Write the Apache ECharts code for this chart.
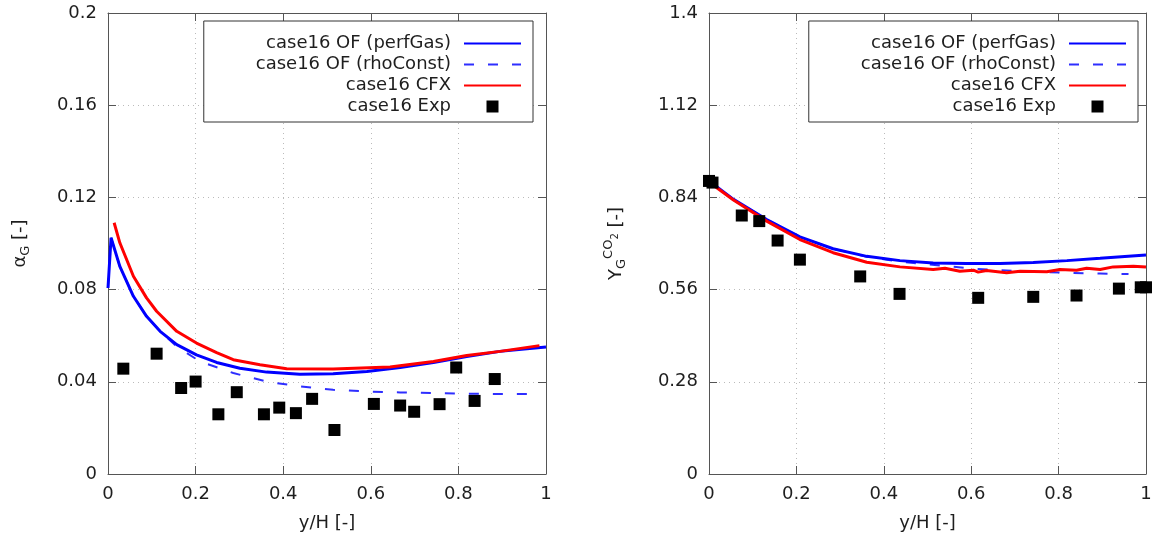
<!DOCTYPE html>
<html>
<head>
<meta charset="utf-8">
<script src="https://cdn.jsdelivr.net/npm/echarts@6/dist/echarts.min.js"></script>
<style>
html,body{margin:0;padding:0;background:#fff;}
#chart{width:1158px;height:540px;}
</style>
</head>
<body>
<div id="chart"></div>
<script>
// ---------- tick labels ----------
const xTickLabels = ['0', '0.2', '0.4', '0.6', '0.8', '1'];
const yTickLabelsAlpha = ['0', '0.04', '0.08', '0.12', '0.16', '0.2'];
const yTickLabelsCO2 = ['0', '0.28', '0.56', '0.84', '1.12', '1.4'];

// ---------- series names ----------
const seriesNames = ['case16 OF (perfGas)', 'case16 OF (rhoConst)', 'case16 CFX', 'case16 Exp'];

// ---------- left plot: gas volume fraction alpha_G ----------
const alphaPerfGas = [
  [0.000, 0.0807], [0.007, 0.1025], [0.027, 0.0901], [0.058, 0.0771], [0.088, 0.0684],
  [0.119, 0.0619], [0.157, 0.0561], [0.202, 0.0517], [0.248, 0.0484], [0.301, 0.0459],
  [0.362, 0.0442], [0.438, 0.0433], [0.514, 0.0435], [0.591, 0.0445], [0.667, 0.0462],
  [0.743, 0.0484], [0.819, 0.0510], [0.895, 0.0532], [1.000, 0.0551]
];
const alphaRhoConst = [
  [0.000, 0.0807], [0.007, 0.1025], [0.027, 0.0901], [0.058, 0.0771], [0.088, 0.0684],
  [0.119, 0.0619], [0.157, 0.0553], [0.210, 0.0488], [0.286, 0.0438], [0.362, 0.0401],
  [0.438, 0.0380], [0.514, 0.0365], [0.591, 0.0358], [0.667, 0.0354], [0.743, 0.0351],
  [0.819, 0.0348], [0.895, 0.0347], [0.985, 0.0347]
];
const alphaCFX = [
  [0.014, 0.1090], [0.027, 0.1003], [0.058, 0.0858], [0.088, 0.0764], [0.111, 0.0706],
  [0.157, 0.0619], [0.202, 0.0568], [0.248, 0.0527], [0.286, 0.0496], [0.347, 0.0474],
  [0.408, 0.0457], [0.514, 0.0455], [0.644, 0.0464], [0.743, 0.0488], [0.819, 0.0514],
  [0.895, 0.0532], [0.985, 0.0557]
];
const alphaExp = [
  [0.035, 0.0457], [0.111, 0.0522], [0.167, 0.0373], [0.200, 0.0401], [0.252, 0.0259],
  [0.294, 0.0355], [0.356, 0.0259], [0.391, 0.0288], [0.429, 0.0264], [0.466, 0.0326],
  [0.517, 0.0191], [0.607, 0.0304], [0.667, 0.0297], [0.699, 0.0270], [0.757, 0.0303],
  [0.795, 0.0462], [0.837, 0.0317], [0.883, 0.0412]
];

// ---------- right plot: CO2 mass fraction in gas ----------
const co2PerfGas = [
  [0.000, 0.888], [0.010, 0.880], [0.056, 0.834], [0.132, 0.773], [0.208, 0.720],
  [0.284, 0.684], [0.361, 0.661], [0.437, 0.648], [0.513, 0.641], [0.590, 0.639],
  [0.666, 0.639], [0.742, 0.642], [0.819, 0.648], [0.895, 0.655], [1.000, 0.665]
];
const co2RhoConst = [
  [0.000, 0.888], [0.010, 0.880], [0.056, 0.834], [0.132, 0.773], [0.208, 0.720],
  [0.284, 0.684], [0.361, 0.660], [0.437, 0.645], [0.529, 0.633], [0.600, 0.624],
  [0.666, 0.619], [0.742, 0.614], [0.819, 0.611], [0.895, 0.609], [0.960, 0.607]
];
const co2CFX = [
  [0.000, 0.885], [0.010, 0.877], [0.056, 0.832], [0.132, 0.768], [0.208, 0.712],
  [0.284, 0.672], [0.361, 0.643], [0.437, 0.629], [0.513, 0.621], [0.540, 0.625],
  [0.574, 0.616], [0.605, 0.619], [0.616, 0.613], [0.635, 0.618], [0.681, 0.611],
  [0.712, 0.616], [0.773, 0.614], [0.803, 0.621], [0.841, 0.619], [0.864, 0.625],
  [0.895, 0.621], [0.925, 0.629], [0.971, 0.631], [1.000, 0.629]
];
const co2Exp = [
  [0.000, 0.890], [0.008, 0.885], [0.075, 0.785], [0.115, 0.768], [0.157, 0.709],
  [0.208, 0.651], [0.346, 0.600], [0.436, 0.547], [0.616, 0.535], [0.742, 0.538],
  [0.841, 0.542], [0.938, 0.563], [0.988, 0.567], [1.000, 0.567]
];

// ---------- styling ----------
const FONT = 'DejaVu Sans';
const TXT = '#1e1e1e';
const AXC = '#555';

function labelFrom(labels, interval) {
  return function (v) {
    const i = Math.round(v / interval);
    return labels[i] !== undefined ? labels[i] : '';
  };
}

function mainX(gridIndex) {
  return {
    type: 'value', gridIndex: gridIndex, position: 'bottom',
    min: 0, max: 1, interval: 0.2,
    name: 'y/H [-]', nameLocation: 'middle', nameGap: 40,
    nameTextStyle: {fontFamily: FONT, fontSize: 18, color: TXT},
    axisLine: {show: true, onZero: false, lineStyle: {color: AXC, width: 1}},
    axisTick: {show: true, inside: true, length: 8, lineStyle: {color: AXC}},
    axisLabel: {margin: 11, fontFamily: FONT, fontSize: 18, color: TXT,
      formatter: labelFrom(xTickLabels, 0.2)},
    splitLine: {show: true, lineStyle: {color: '#bbb', type: [1, 4], width: 1}}
  };
}
function mirrorX(gridIndex) {
  return {
    type: 'value', gridIndex: gridIndex, position: 'top',
    min: 0, max: 1, interval: 0.2,
    axisLine: {show: true, onZero: false, lineStyle: {color: AXC, width: 1}},
    axisTick: {show: true, inside: true, length: 8, lineStyle: {color: AXC}},
    axisLabel: {show: false}, splitLine: {show: false}
  };
}
function mainY(gridIndex, max, interval, labels, name, nameRich, gap) {
  return {
    type: 'value', gridIndex: gridIndex, position: 'left',
    min: 0, max: max, interval: interval,
    name: name, nameLocation: 'middle', nameGap: gap, nameRotate: 90,
    nameTextStyle: {fontFamily: FONT, fontSize: 18, color: TXT, rich: nameRich},
    axisLine: {show: true, onZero: false, lineStyle: {color: AXC, width: 1}},
    axisTick: {show: true, inside: true, length: 8, lineStyle: {color: AXC}},
    axisLabel: {margin: 11, fontFamily: FONT, fontSize: 18, color: TXT,
      formatter: labelFrom(labels, interval)},
    splitLine: {show: true, lineStyle: {color: '#bbb', type: [1, 4], width: 1}}
  };
}
function mirrorY(gridIndex, max, interval) {
  return {
    type: 'value', gridIndex: gridIndex, position: 'right',
    min: 0, max: max, interval: interval,
    axisLine: {show: true, onZero: false, lineStyle: {color: AXC, width: 1}},
    axisTick: {show: true, inside: true, length: 8, lineStyle: {color: AXC}},
    axisLabel: {show: false}, splitLine: {show: false}
  };
}

const richName = {
  a: {fontFamily: FONT, fontSize: 18, color: TXT, lineHeight: 30},
  sub: {fontFamily: FONT, fontSize: 13, color: TXT, verticalAlign: 'bottom', lineHeight: 13, padding: [0, 0, 3, 0]},
  sup: {fontFamily: FONT, fontSize: 13, color: TXT, verticalAlign: 'top', lineHeight: 13, padding: [1, 0, 0, 0]},
  sup2: {fontFamily: FONT, fontSize: 10, color: TXT, verticalAlign: 'top', lineHeight: 10, padding: [9, 0, 0, 0]}
};

function legendFor(rightPx) {
  const noSym = {opacity: 0};
  return {
    orient: 'vertical', align: 'right', right: rightPx, top: 21,
    itemWidth: 57, itemHeight: 12, itemGap: 0,
    padding: [12, 11, 5, 52],
    backgroundColor: '#fff', borderColor: '#333', borderWidth: 1,
    textStyle: {fontFamily: FONT, fontSize: 18, color: TXT, lineHeight: 21, padding: [0, 8, 0, 0]},
    selectedMode: false,
    data: [
      {name: seriesNames[0], itemStyle: noSym},
      {name: seriesNames[1], itemStyle: noSym},
      {name: seriesNames[2], itemStyle: noSym},
      {name: seriesNames[3], icon: 'path://M0,0L10,0L10,10L0,10Z', itemStyle: {color: '#000', opacity: 1}}
    ]
  };
}

function makeSeries(xi, yi, perf, rho, cfx, exp) {
  return [
    {name: seriesNames[0], type: 'line', xAxisIndex: xi, yAxisIndex: yi, data: perf,
      symbol: 'none', color: '#0000ff', lineStyle: {color: '#0000ff', width: 3}, z: 3},
    {name: seriesNames[1], type: 'line', xAxisIndex: xi, yAxisIndex: yi, data: rho,
      symbol: 'none', color: '#2e2eff', lineStyle: {color: '#2e2eff', width: 2, type: [10, 14]}, z: 2},
    {name: seriesNames[2], type: 'line', xAxisIndex: xi, yAxisIndex: yi, data: cfx,
      symbol: 'none', color: '#ff0000', lineStyle: {color: '#ff0000', width: 3}, z: 4},
    {name: seriesNames[3], type: 'scatter', xAxisIndex: xi, yAxisIndex: yi, data: exp,
      symbol: 'rect', symbolSize: 12, color: '#000', itemStyle: {color: '#000', opacity: 1}, clip: false, z: 5}
  ];
}

const chart = echarts.init(document.getElementById('chart'), null, {renderer: 'canvas'});
chart.setOption({
  animation: false,
  backgroundColor: '#fff',
  grid: [
    {left: 108, top: 13, width: 438, height: 461},
    {left: 709, top: 13, width: 437, height: 461}
  ],
  xAxis: [mainX(0), mirrorX(0), mainX(1), mirrorX(1)],
  yAxis: [
    mainY(0, 0.2, 0.04, yTickLabelsAlpha, '{a|α}{sub|G}{a| [-]}', richName, 73),
    mirrorY(0, 0.2, 0.04),
    mainY(1, 1.4, 0.28, yTickLabelsCO2, '{a|Y}{sub|G}{sup|CO}{sup2|2}{a| [-]}', richName, 78),
    mirrorY(1, 1.4, 0.28)
  ],
  legend: [legendFor(625), legendFor(20)],
  series: [].concat(
    makeSeries(0, 0, alphaPerfGas, alphaRhoConst, alphaCFX, alphaExp),
    makeSeries(2, 2, co2PerfGas, co2RhoConst, co2CFX, co2Exp)
  )
});
</script>
</body>
</html>
